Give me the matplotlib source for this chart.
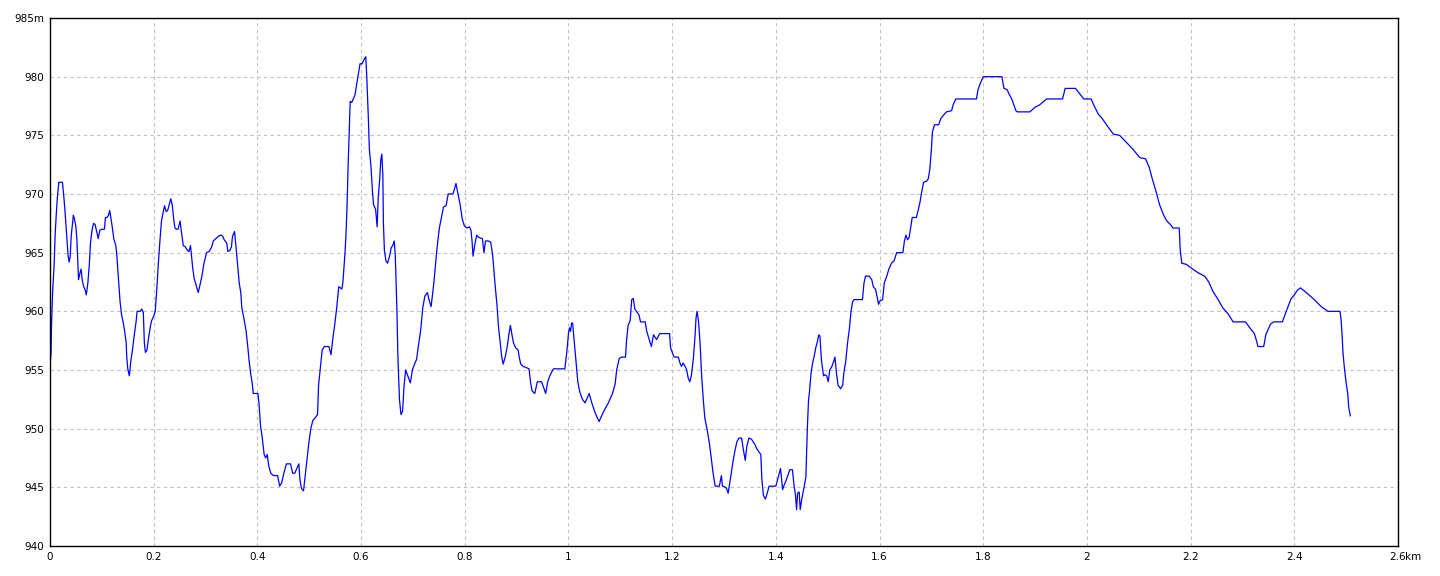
import matplotlib
matplotlib.use("Agg")
import matplotlib.pyplot as plt

dist_km = [
    0.000, 0.002, 0.003, 0.005, 0.008, 0.010, 0.012, 0.014, 0.017, 0.024,
    0.027, 0.029, 0.031, 0.033, 0.035, 0.037, 0.039, 0.041, 0.044, 0.045,
    0.047, 0.050, 0.052, 0.054, 0.055, 0.058, 0.060, 0.062, 0.065, 0.068,
    0.070, 0.073, 0.076, 0.078, 0.081, 0.084, 0.087, 0.090, 0.093, 0.096,
    0.100, 0.105, 0.107, 0.110, 0.113, 0.115, 0.117, 0.120, 0.123, 0.127,
    0.129, 0.132, 0.135, 0.138, 0.141, 0.144, 0.147, 0.148, 0.150, 0.153,
    0.156, 0.159, 0.162, 0.166, 0.168, 0.174, 0.177, 0.180, 0.182, 0.184,
    0.187, 0.190, 0.194, 0.196, 0.200, 0.203, 0.206, 0.209, 0.212, 0.215,
    0.219, 0.221, 0.224, 0.227, 0.230, 0.233, 0.236, 0.239, 0.241, 0.244,
    0.247, 0.251, 0.253, 0.255, 0.257, 0.261, 0.265, 0.268, 0.271, 0.273,
    0.275, 0.278, 0.282, 0.286, 0.289, 0.293, 0.297, 0.302, 0.307, 0.312,
    0.315, 0.320, 0.325, 0.330, 0.333, 0.336, 0.341, 0.343, 0.347, 0.350,
    0.352, 0.356, 0.359, 0.361, 0.365, 0.368, 0.370, 0.374, 0.378, 0.381,
    0.384, 0.387, 0.390, 0.392, 0.401, 0.403, 0.406, 0.410, 0.413, 0.416,
    0.419, 0.422, 0.426, 0.431, 0.439, 0.443, 0.447, 0.451, 0.456, 0.464,
    0.468, 0.472, 0.477, 0.480, 0.482, 0.485, 0.489, 0.492, 0.495, 0.499,
    0.503, 0.507, 0.511, 0.516, 0.518, 0.521, 0.525, 0.529, 0.538, 0.542,
    0.545, 0.549, 0.553, 0.557, 0.563, 0.565, 0.569, 0.571, 0.573, 0.575,
    0.577, 0.579, 0.582, 0.585, 0.588, 0.591, 0.594, 0.598, 0.602, 0.605,
    0.609, 0.611, 0.614, 0.616, 0.619, 0.622, 0.624, 0.628, 0.631, 0.633,
    0.636, 0.638, 0.640, 0.642, 0.643, 0.645, 0.648, 0.651, 0.655, 0.658,
    0.662, 0.664, 0.666, 0.669, 0.671, 0.674, 0.677, 0.680, 0.683, 0.686,
    0.691, 0.695, 0.699, 0.704, 0.707, 0.711, 0.715, 0.719, 0.723, 0.728,
    0.731, 0.735, 0.738, 0.741, 0.745, 0.748, 0.751, 0.755, 0.759, 0.764,
    0.768, 0.777, 0.780, 0.783, 0.786, 0.791, 0.795, 0.799, 0.804, 0.809,
    0.812, 0.814, 0.816, 0.819, 0.823, 0.827, 0.834, 0.837, 0.840, 0.845,
    0.850, 0.854, 0.858, 0.862, 0.865, 0.868, 0.871, 0.874, 0.878, 0.882,
    0.885, 0.888, 0.891, 0.894, 0.898, 0.903, 0.905, 0.908, 0.913, 0.919,
    0.924, 0.927, 0.930, 0.935, 0.940, 0.948, 0.953, 0.956, 0.960, 0.964,
    0.971, 0.987, 0.993, 0.997, 1.000, 1.002, 1.004, 1.006, 1.008, 1.011,
    1.015, 1.018, 1.022, 1.027, 1.032, 1.036, 1.040, 1.045, 1.051, 1.059,
    1.067, 1.077, 1.085, 1.090, 1.093, 1.098, 1.103, 1.110, 1.112, 1.115,
    1.119, 1.122, 1.125, 1.128, 1.131, 1.136, 1.139, 1.148, 1.151, 1.155,
    1.160, 1.164, 1.167, 1.170, 1.176, 1.195, 1.197, 1.201, 1.204, 1.212,
    1.215, 1.218, 1.221, 1.225, 1.228, 1.231, 1.234, 1.237, 1.241, 1.244,
    1.246, 1.248, 1.251, 1.254, 1.257, 1.260, 1.263, 1.268, 1.272, 1.276,
    1.279, 1.283, 1.287, 1.291, 1.295, 1.297, 1.303, 1.305, 1.308, 1.313,
    1.317, 1.321, 1.325, 1.329, 1.334, 1.337, 1.341, 1.344, 1.348, 1.353,
    1.359, 1.363, 1.371, 1.373, 1.376, 1.380, 1.384, 1.387, 1.395, 1.400,
    1.403, 1.407, 1.409, 1.413, 1.416, 1.419, 1.423, 1.427, 1.432, 1.435,
    1.438, 1.440, 1.442, 1.445, 1.447, 1.450, 1.454, 1.458, 1.459, 1.461,
    1.463, 1.465, 1.468, 1.471, 1.474, 1.477, 1.480, 1.483, 1.485, 1.488,
    1.492, 1.495, 1.498, 1.501, 1.504, 1.508, 1.512, 1.514, 1.517, 1.520,
    1.525, 1.529, 1.531, 1.535, 1.538, 1.542, 1.545, 1.548, 1.551, 1.567,
    1.570, 1.573, 1.580, 1.585, 1.588, 1.592, 1.596, 1.598, 1.601, 1.606,
    1.609, 1.614, 1.618, 1.623, 1.628, 1.633, 1.645, 1.648, 1.651, 1.654,
    1.657, 1.660, 1.663, 1.671, 1.675, 1.678, 1.681, 1.685, 1.691, 1.694,
    1.697, 1.700, 1.702, 1.706, 1.714, 1.718, 1.723, 1.729, 1.739, 1.742,
    1.747, 1.787, 1.790, 1.795, 1.800, 1.836, 1.840, 1.846, 1.850, 1.855,
    1.859, 1.863, 1.866, 1.890, 1.900, 1.909, 1.922, 1.953, 1.958, 1.978,
    1.985, 1.994, 2.008, 2.013, 2.022, 2.030, 2.041, 2.051, 2.063, 2.074,
    2.089, 2.102, 2.113, 2.120, 2.126, 2.134, 2.140, 2.148, 2.154, 2.161,
    2.166, 2.178, 2.180, 2.183, 2.192, 2.201, 2.214, 2.227, 2.235, 2.243,
    2.253, 2.262, 2.272, 2.282, 2.306, 2.314, 2.323, 2.327, 2.330, 2.341,
    2.345, 2.349, 2.354, 2.360, 2.377, 2.382, 2.387, 2.394, 2.400, 2.406,
    2.412, 2.423, 2.436, 2.452, 2.465, 2.488, 2.490, 2.492, 2.494, 2.497,
    2.500, 2.503, 2.505, 2.508,
]
elev_m = [
    955.5, 956.4, 958.9, 961.6, 964.0, 966.6, 968.2, 969.6, 971.0, 971.0,
    969.6, 968.5, 967.2, 965.8, 964.7, 964.2, 964.7, 966.5, 967.7, 968.2,
    967.9, 967.2, 966.0, 963.8, 962.7, 963.3, 963.6, 962.7, 962.1, 961.8,
    961.4, 962.4, 964.1, 965.8, 966.9, 967.5, 967.4, 966.8, 966.2, 966.9,
    967.0, 967.0, 968.0, 968.0, 968.2, 968.6, 968.1, 967.2, 966.2, 965.6,
    964.7, 962.8, 960.9, 959.7, 959.1, 958.3, 957.3, 956.1, 955.1, 954.5,
    955.8, 956.7, 957.8, 959.1, 960.0, 960.0, 960.2, 959.9, 957.3, 956.5,
    956.7, 957.7, 958.8, 959.2, 959.6, 960.0, 961.9, 964.1, 966.0, 967.7,
    968.6, 969.0, 968.5, 968.6, 969.1, 969.6, 969.0, 967.7, 967.1, 967.0,
    967.0, 967.7, 966.9, 966.3, 965.6, 965.5, 965.2, 965.1, 965.6, 964.7,
    963.8, 962.8, 962.2, 961.6, 962.2, 963.0, 964.1, 965.0, 965.1, 965.5,
    966.0, 966.2, 966.4, 966.5, 966.4, 966.1, 965.8, 965.1, 965.2, 965.5,
    966.4, 966.8, 965.4, 964.4, 962.4, 961.6, 960.3, 959.4, 958.4, 957.2,
    955.8, 954.7, 953.9, 953.0, 953.0, 952.2, 950.3, 949.0, 947.8, 947.5,
    947.8, 946.8, 946.2, 946.0, 946.0, 945.1, 945.4, 946.2, 947.0, 947.0,
    946.2, 946.2, 946.7, 947.0, 945.7, 944.9, 944.7, 945.9, 947.1, 948.7,
    950.0, 950.7, 950.9, 951.2, 953.7, 955.0, 956.7, 957.0, 957.0, 956.3,
    957.5, 958.8, 960.3, 962.1, 961.9, 962.5, 965.0, 966.6, 969.1, 972.4,
    975.1, 977.9, 977.8, 978.1, 978.4, 979.2, 980.0, 981.1, 981.1, 981.4,
    981.7, 980.0, 976.5, 973.8, 972.4, 970.2, 969.1, 968.7, 967.2, 969.6,
    971.3, 972.9, 973.4, 971.6, 967.6, 965.2, 964.3, 964.1, 964.7, 965.4,
    965.7, 966.0, 964.7, 960.3, 956.2, 952.5, 951.2, 951.5, 953.7, 955.0,
    954.4, 953.9, 955.0, 955.6, 955.9, 957.2, 958.4, 960.3, 961.3, 961.6,
    961.0, 960.4, 961.5, 962.7, 964.7, 966.0, 967.1, 968.0, 968.9, 969.0,
    970.0, 970.0, 970.4, 970.9, 970.2, 969.1, 967.9, 967.3, 967.1, 967.2,
    966.9, 966.0, 964.7, 965.6, 966.5, 966.3, 966.2, 965.0, 966.0, 966.0,
    965.9, 964.7, 962.5, 960.6, 958.7, 957.5, 956.2, 955.5, 956.1, 957.0,
    958.0, 958.8, 958.0, 957.3, 956.9, 956.7, 956.1, 955.5, 955.3, 955.2,
    955.1, 953.9, 953.2, 953.0, 954.0, 954.0, 953.4, 953.0, 954.0, 954.5,
    955.1, 955.1, 955.1, 956.6, 958.1, 958.6, 958.3, 959.0, 959.0, 957.5,
    955.6, 954.0, 953.1, 952.5, 952.2, 952.6, 953.0, 952.2, 951.4, 950.6,
    951.4, 952.2, 953.0, 953.8, 955.0, 956.0, 956.1, 956.1, 957.5, 958.8,
    959.2, 961.0, 961.1, 960.2, 960.0, 959.7, 959.1, 959.1, 958.3, 957.7,
    957.0, 958.0, 957.8, 957.6, 958.1, 958.1, 956.9, 956.4, 956.1, 956.1,
    955.6, 955.3, 955.6, 955.3, 955.0, 954.3, 954.0, 954.5, 956.0, 957.8,
    959.4, 960.0, 959.1, 957.2, 954.4, 952.5, 950.9, 949.8, 948.7, 947.3,
    946.2, 945.1, 945.1, 945.1, 946.0, 945.1, 945.0, 944.9, 944.5, 945.9,
    947.1, 948.1, 948.9, 949.2, 949.2, 948.3, 947.3, 948.5, 949.2, 949.1,
    948.7, 948.3, 947.8, 945.7, 944.3, 944.0, 944.6, 945.1, 945.1, 945.1,
    945.6, 946.3, 946.6, 944.8, 945.2, 945.5, 946.0, 946.5, 946.5, 945.2,
    944.3, 943.1, 944.5, 944.6, 943.1, 944.0, 944.9, 945.9, 947.5, 950.3,
    952.4, 953.2, 954.8, 955.6, 956.2, 956.9, 957.4, 958.0, 957.9, 955.8,
    954.5, 954.6, 954.5, 954.0, 955.0, 955.3, 955.8, 956.1, 954.7, 953.7,
    953.4, 953.7, 954.7, 955.8, 957.2, 958.6, 960.0, 960.8, 961.0, 961.0,
    962.4, 963.0, 963.0, 962.7, 962.1, 961.9, 961.1, 960.6, 960.9, 961.0,
    962.4, 963.0, 963.6, 964.1, 964.3, 965.0, 965.0, 966.0, 966.5, 966.1,
    966.3, 967.1, 968.0, 968.0, 968.7, 969.3, 970.1, 971.0, 971.1, 971.3,
    972.1, 973.8, 975.3, 975.9, 975.9, 976.4, 976.7, 977.0, 977.1, 977.6,
    978.1, 978.1, 978.9, 979.5, 980.0, 980.0, 979.0, 978.9, 978.5, 978.1,
    977.6, 977.1, 977.0, 977.0, 977.4, 977.6, 978.1, 978.1, 979.0, 979.0,
    978.6, 978.1, 978.1, 977.6, 976.8, 976.4, 975.7, 975.1, 975.0, 974.5,
    973.8, 973.1, 973.0, 972.3, 971.3, 970.1, 969.1, 968.2, 967.7, 967.4,
    967.1, 967.1, 965.2, 964.1, 964.0, 963.7, 963.3, 963.0, 962.5, 961.7,
    961.0, 960.3, 959.8, 959.1, 959.1, 958.6, 958.1, 957.5, 957.0, 957.0,
    958.0, 958.4, 958.9, 959.1, 959.1, 959.7, 960.3, 961.1, 961.4, 961.8,
    962.0, 961.6, 961.1, 960.4, 960.0, 960.0, 959.4, 958.1, 956.4, 955.0,
    953.9, 953.0, 951.8, 951.1,
]

x_ticks = [0, 0.2, 0.4, 0.6, 0.8, 1, 1.2, 1.4, 1.6, 1.8, 2, 2.2, 2.4, 2.6]
x_labels = ["0", "0.2", "0.4", "0.6", "0.8", "1", "1.2", "1.4", "1.6", "1.8",
            "2", "2.2", "2.4", "2.6"]
y_ticks = [940, 945, 950, 955, 960, 965, 970, 975, 980, 985]
y_labels = ["940", "945", "950", "955", "960", "965", "970", "975", "980", "985m"]

fig = plt.figure(figsize=(14.4, 5.76), dpi=100)
ax = fig.add_axes([50 / 1440, 30 / 576, 1348 / 1440, 528 / 576])

ax.plot(dist_km, elev_m, color="#0000ff", linewidth=0.9)

ax.set_xlim(0, 2.6)
ax.set_ylim(940, 985)
ax.set_xticks(x_ticks)
ax.set_xticklabels(x_labels, fontsize=7.5)
ax.set_yticks(y_ticks)
ax.set_yticklabels(y_labels, fontsize=7.5)
ax.tick_params(length=0, pad=4)

# unité "km" collée après le dernier libellé
ax.annotate("km", xy=(2.6, 0), xycoords=("data", "axes fraction"),
            xytext=(5.3, -4), textcoords="offset points",
            ha="left", va="top", fontsize=7.5)

ax.grid(True, color="#c0c0c0", linestyle=(0, (3, 3)), linewidth=0.8)
for s in ax.spines.values():
    s.set_color("black")
    s.set_linewidth(1.0)

fig.savefig("out.png", dpi=100)
